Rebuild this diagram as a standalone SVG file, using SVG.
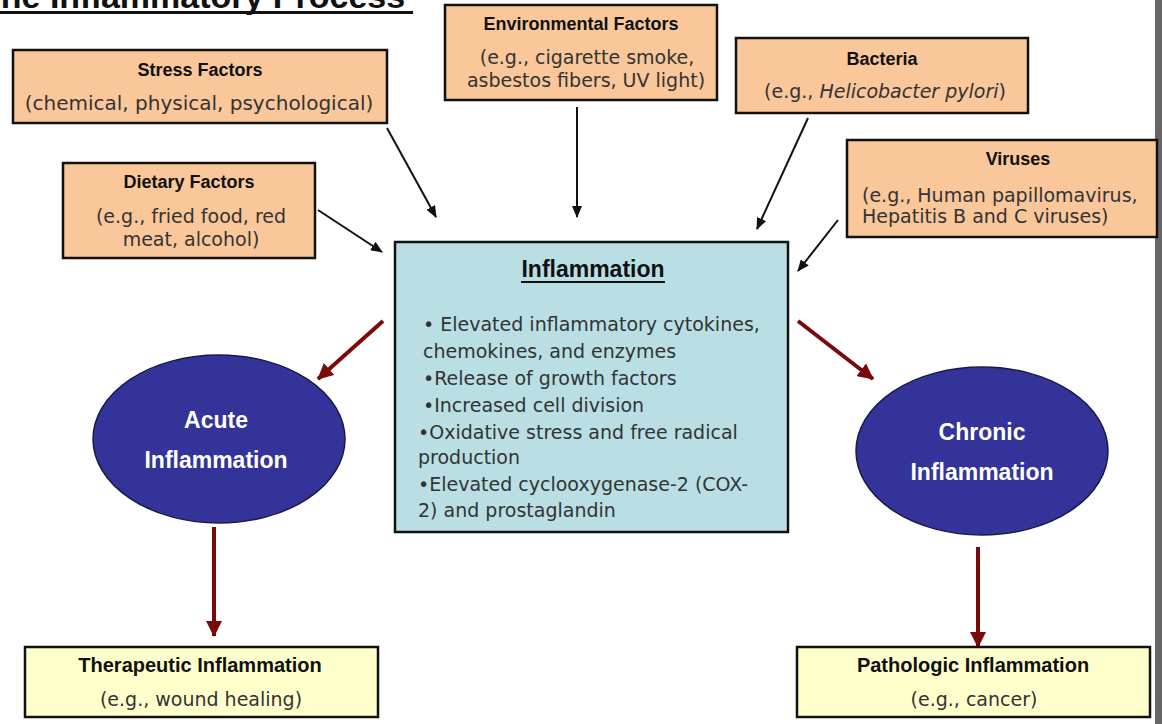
<svg xmlns="http://www.w3.org/2000/svg" width="1162" height="724" viewBox="0 0 1162 724">
<style>
.factor{fill:#F9C79A;stroke:#111;stroke-width:2.5}
.result{fill:#FFFFCC;stroke:#111;stroke-width:2.5}
.center{fill:#B9DFE4;stroke:#111;stroke-width:2.5}
.oval{fill:#333399;stroke:#1a1a4a;stroke-width:1.5}
.ttl{font-family:"Liberation Sans",Arial,sans-serif;font-weight:bold;font-size:18px;fill:#111;text-anchor:middle}
.big{font-size:23px}
.mid{font-size:20px}
.sub{font-family:"DejaVu Sans","Liberation Sans",sans-serif;font-size:19px;fill:#333;text-anchor:middle}
.body{font-family:"DejaVu Sans","Liberation Sans",sans-serif;font-size:19px;fill:#333}
.ov{font-family:"Liberation Sans",Arial,sans-serif;font-weight:bold;font-size:23px;fill:#fff;text-anchor:middle}
.blk{stroke:#111;stroke-width:2;fill:none;marker-end:url(#ab)}
.red{stroke:#7A0A0A;stroke-width:4;fill:none;marker-end:url(#ar)}
</style>
<defs>
<marker id="ab" markerUnits="userSpaceOnUse" markerWidth="12" markerHeight="10" refX="11" refY="5" orient="auto"><path d="M0,0 L12,5 L0,10 z" fill="#111"/></marker>
<marker id="ar" markerUnits="userSpaceOnUse" markerWidth="16" markerHeight="16" refX="15" refY="8" orient="auto"><path d="M0,0 L16,8 L0,16 z" fill="#7A0A0A"/></marker>
</defs>
<rect width="1162" height="724" fill="#fff"/>
<rect x="1155" y="0" width="7" height="724" fill="#666"/>
<g id="title">
<text x="-20" y="8" font-family="Liberation Sans, Arial, sans-serif" font-weight="bold" font-size="34" fill="#111">The Inflammatory Process</text>
<line x1="0" y1="12.5" x2="413" y2="12.5" stroke="#111" stroke-width="3"/>
</g>
<g id="connectors">
<line class="blk" x1="387" y1="128" x2="436" y2="217"/>
<line class="blk" x1="577" y1="107" x2="577" y2="217"/>
<line class="blk" x1="808" y1="118" x2="757" y2="229"/>
<line class="blk" x1="838" y1="220" x2="798" y2="271"/>
<line class="blk" x1="318" y1="210" x2="382" y2="252"/>
<line class="red" x1="383" y1="321" x2="318" y2="379"/>
<line class="red" x1="798" y1="321" x2="873" y2="379"/>
<line class="red" x1="214" y1="527" x2="214" y2="636"/>
<line class="red" x1="978" y1="547" x2="978" y2="647"/>
</g>
<g id="stress">
<rect class="factor" x="13" y="50" width="374" height="73"/>
<text class="ttl" x="200" y="76">Stress Factors</text>
<text class="sub" x="199" y="110" style="font-size:20px">(chemical, physical, psychological)</text>
</g>
<g id="environmental">
<rect class="factor" x="445" y="5" width="272" height="95"/>
<text class="ttl" x="581" y="30">Environmental Factors</text>
<text class="sub" x="587" y="64">(e.g., cigarette smoke,</text>
<text class="sub" x="586" y="87">asbestos fibers, UV light)</text>
</g>
<g id="bacteria">
<rect class="factor" x="736" y="38" width="292" height="75"/>
<text class="ttl" x="882" y="65">Bacteria</text>
<text class="sub" x="885" y="98">(e.g., <tspan font-style="italic">Helicobacter pylori</tspan>)</text>
</g>
<g id="viruses">
<rect class="factor" x="847" y="140" width="310" height="97"/>
<text class="ttl" x="1018" y="165">Viruses</text>
<text class="body" x="862" y="202">(e.g., Human papillomavirus,</text>
<text class="body" x="862" y="223">Hepatitis B and C viruses)</text>
</g>
<g id="dietary">
<rect class="factor" x="63" y="163" width="252" height="95"/>
<text class="ttl" x="189" y="188">Dietary Factors</text>
<text class="sub" x="191" y="223">(e.g., fried food, red</text>
<text class="sub" x="191" y="246">meat, alcohol)</text>
</g>
<g id="inflammation">
<rect class="center" x="395" y="242" width="393" height="290"/>
<text class="ttl big" x="593" y="277">Inflammation</text>
<line x1="521" y1="282" x2="665" y2="282" stroke="#111" stroke-width="2"/>
<text class="body" x="423" y="331">• Elevated inflammatory cytokines,</text>
<text class="body" x="423" y="358">chemokines, and enzymes</text>
<text class="body" x="423" y="385">•Release of growth factors</text>
<text class="body" x="423" y="412">•Increased cell division</text>
<text class="body" x="418" y="439">•Oxidative stress and free radical</text>
<text class="body" x="418" y="464">production</text>
<text class="body" x="418" y="491">•Elevated cyclooxygenase-2 (COX-</text>
<text class="body" x="418" y="517">2) and prostaglandin</text>
</g>
<g id="acute">
<ellipse class="oval" cx="219" cy="439" rx="126" ry="84"/>
<text class="ov" x="216" y="428">Acute</text>
<text class="ov" x="216" y="468">Inflammation</text>
</g>
<g id="chronic">
<ellipse class="oval" cx="982" cy="451" rx="126" ry="84"/>
<text class="ov" x="982" y="440">Chronic</text>
<text class="ov" x="982" y="480">Inflammation</text>
</g>
<g id="therapeutic">
<rect class="result" x="25" y="647" width="353" height="70"/>
<text class="ttl mid" x="200" y="672">Therapeutic Inflammation</text>
<text class="sub" x="201" y="706">(e.g., wound healing)</text>
</g>
<g id="pathologic">
<rect class="result" x="797" y="647" width="353" height="70"/>
<text class="ttl mid" x="973" y="672">Pathologic Inflammation</text>
<text class="sub" x="974" y="706">(e.g., cancer)</text>
</g>
</svg>
